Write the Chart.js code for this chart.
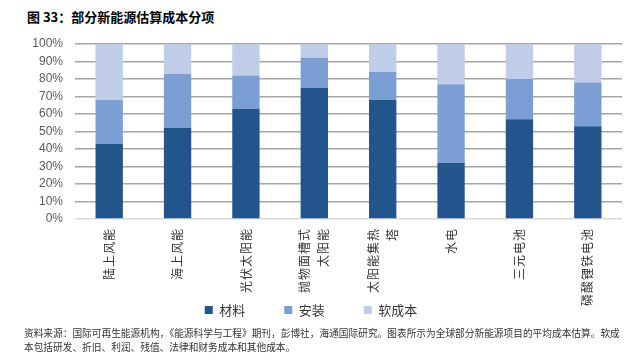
<!DOCTYPE html>
<html><head><meta charset="utf-8">
<script src="https://cdn.jsdelivr.net/npm/chart.js@4.4.0/dist/chart.umd.min.js"></script>
<style>
html,body{margin:0;padding:0;background:#fff;}
#wrap{position:relative;width:643px;height:363px;overflow:hidden;}
#c{position:absolute;left:0;top:0;}
.title{position:absolute;left:27px;top:9px;font:bold 13px/16px "Noto Sans CJK SC";color:#000;white-space:nowrap;}
.note{position:absolute;left:24px;top:326px;font:9.7px/14px "Noto Sans CJK SC";color:#333;white-space:nowrap;}
</style></head><body>
<div id="wrap">
<div class="title">图 33：部分新能源估算成本分项</div>
<canvas id="c" width="643" height="363"></canvas>
<div class="note">资料来源：国际可再生能源机构，《能源科学与工程》期刊，彭博社，海通国际研究。图表所示为全球部分新能源项目的平均成本估算。软成<br>本包括研发、折旧、利润、残值、法律和财务成本和其他成本。</div>
</div>
<script>
const categories = ['陆上风能','海上风能','光伏太阳能',['抛物面槽式','太阳能'],['太阳能集热','塔'],'水电','三元电池','磷酸锂铁电池'];
const seriesNames = ['材料','安装','软成本'];
const materials = [43,52,63,75,68,32,57,53];
const installation = [25,31,19,17,16,45,23,25];
const softCost = [32,17,18,8,16,23,20,22];
const yTickValues = [0,10,20,30,40,50,60,70,80,90,100];

const xLabelPlugin = {
  id:'xLabels',
  afterDraw(chart){
    const sc = chart.scales.x, ctx = chart.ctx;
    ctx.save();
    ctx.font = '12px "Noto Sans CJK SC"';
    ctx.fillStyle = '#333';
    try { ctx.letterSpacing = '1px'; } catch(e) {}
    ctx.textAlign = 'right';
    ctx.textBaseline = 'middle';
    const lh = 19;
    categories.forEach((lab,i)=>{
      const lines = Array.isArray(lab) ? lab : [lab];
      const x0 = sc.getPixelForTick(i);
      const y0 = sc.top + 9;
      lines.forEach((ln,j)=>{
        const x = x0 + (j - (lines.length-1)/2) * lh;
        ctx.save(); ctx.translate(x, y0); ctx.rotate(-Math.PI/2); ctx.fillText(ln, 0, 0); ctx.restore();
      });
    });
    ctx.restore();
  }
};

new Chart(document.getElementById('c'), {
  type:'bar',
  data:{
    labels: categories,
    datasets:[
      {label:seriesNames[0], data:materials, backgroundColor:'#23558d'},
      {label:seriesNames[1], data:installation, backgroundColor:'#7b9fd4'},
      {label:seriesNames[2], data:softCost, backgroundColor:'#bfcde8'}
    ]
  },
  options:{
    responsive:false,
    animation:false,
    devicePixelRatio:1,
    layout:{padding:{top:44,left:0,right:21,bottom:36.5}},
    datasets:{bar:{categoryPercentage:1, barPercentage:0.4, borderWidth:0}},
    plugins:{
      tooltip:{enabled:false},
      legend:{
        position:'bottom',
        labels:{boxWidth:8, boxHeight:8, padding:39, color:'#333',
          font:{family:'"Noto Sans CJK SC"', size:13}}
      }
    },
    scales:{
      x:{
        stacked:true,
        grid:{display:false},
        border:{display:false},
        ticks:{display:false},
        afterFit(s){ s.height = 45.5; }
      },
      y:{
        stacked:true,
        min:0, max:100,
        afterBuildTicks(s){ s.ticks = yTickValues.map(v=>({value:v})); },
        ticks:{padding:12, color:'#595959', font:{family:'"Liberation Sans"', size:12},
          callback:(v)=>v+'%'},
        grid:{drawTicks:false, lineWidth:1.5,
          color:(c)=> c.tick && c.tick.value===0 ? '#d9d9d9' : '#a6a6a6'},
        border:{display:false},
        afterFit(s){ s.width = 75; }
      }
    }
  },
  plugins:[xLabelPlugin]
});
</script>
</body></html>
